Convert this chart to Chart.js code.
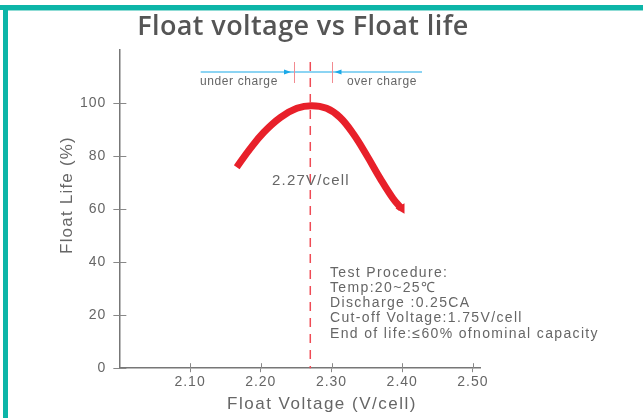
<!DOCTYPE html>
<html>
<head>
<meta charset="utf-8">
<script src="https://cdn.jsdelivr.net/npm/chart.js@4/dist/chart.umd.min.js"></script>
<style>
    html, body { margin: 0; padding: 0; background: #fff; }
    #cadre { position: relative; width: 643px; height: 418px; overflow: hidden; }
    #graphique { display: block; }
</style>
</head>
<body>
<div id="cadre"><canvas id="graphique" width="643" height="418"></canvas></div>
<script>
// données
const tensions = [2.166, 2.185, 2.204, 2.228, 2.251, 2.272, 2.293, 2.312, 2.331, 2.350, 2.369, 2.387, 2.399];
const vieFlottante = [75.8, 82.8, 88.9, 94.6, 98.0, 99.0, 98.0, 94.6, 88.3, 80.2, 71.5, 64.0, 60.2];
const ticksX = [2.10, 2.20, 2.30, 2.40, 2.50];
const ticksY = [0, 20, 40, 60, 80, 100];
const tensionOptimale = 2.27;
const procedure = [
    'Test Procedure:',
    'Temp:20~25\u2103',
    'Discharge :0.25CA',
    'Cut-off Voltage:1.75V/cell',
    'End of life:\u226460% ofnominal capacity',
];

const gris = '#666666';

function texte(ctx, t, x, y, police, espacement) {
    ctx.font = police;
    ctx.letterSpacing = espacement + 'px';
    ctx.fillText(t, x, y);
}

const decor = {
    id: 'decor',
    beforeDraw(chart) {
        const ctx = chart.ctx;
        ctx.save();
        ctx.fillStyle = '#ffffff';
        ctx.fillRect(0, 0, chart.width, chart.height);
        // cadre turquoise
        ctx.fillStyle = '#0db5a8';
        ctx.fillRect(0, 5, chart.width, 5);
        ctx.fillRect(3, 5, 5, chart.height);
        ctx.fillStyle = '#8fdcd5';
        ctx.fillRect(8, 10, chart.width, 1);
        ctx.restore();
        // espacement des lettres pour les graduations
        ctx.letterSpacing = '1px';
    },
    afterDraw(chart) {
        const ctx = chart.ctx;
        const x = chart.scales.x;
        const y = chart.scales.y;
        ctx.save();

        // titre
        ctx.fillStyle = '#555555';
        ctx.textAlign = 'center';
        ctx.textBaseline = 'middle';
        texte(ctx, 'Float voltage vs Float life', 303, 27, '600 27px "Open Sans"', 0.4);

        // titres des axes
        ctx.fillStyle = gris;
        texte(ctx, 'Float Voltage (V/cell)', 322, 404, '17px "Liberation Sans"', 1.5);
        ctx.save();
        ctx.translate(67, 195);
        ctx.rotate(-Math.PI / 2);
        texte(ctx, 'Float Life (%)', 0, 0, '17px "Liberation Sans"', 1.2);
        ctx.restore();

        // petits traits intérieurs des graduations
        ctx.strokeStyle = '#888888';
        ctx.lineWidth = 1;
        for (const v of ticksY) {
            const py = Math.round(y.getPixelForValue(v)) + 0.5;
            ctx.beginPath();
            ctx.moveTo(x.left, py);
            ctx.lineTo(x.left + 7, py);
            ctx.stroke();
        }
        for (const v of ticksX) {
            const px = Math.round(x.getPixelForValue(v)) + 0.5;
            ctx.beginPath();
            ctx.moveTo(px, y.bottom);
            ctx.lineTo(px, y.bottom - 5);
            ctx.stroke();
        }

        // ligne pointillée rouge à 2.27
        const xo = x.getPixelForValue(tensionOptimale);
        ctx.strokeStyle = '#ef4b55';
        ctx.lineWidth = 1.5;
        ctx.setLineDash([9, 7]);
        ctx.beginPath();
        ctx.moveTo(xo, 62);
        ctx.lineTo(xo, y.bottom);
        ctx.stroke();
        ctx.setLineDash([]);

        // sous-charge / surcharge
        const xa = x.getPixelForValue(2.115);
        const xb = x.getPixelForValue(2.428);
        const xg = x.getPixelForValue(2.247);
        const xd = x.getPixelForValue(2.300);
        ctx.strokeStyle = '#1aa9e8';
        ctx.fillStyle = '#1aa9e8';
        ctx.lineWidth = 1.2;
        ctx.beginPath();
        ctx.moveTo(xa, 72);
        ctx.lineTo(xb, 72);
        ctx.stroke();
        ctx.beginPath();
        ctx.moveTo(xg - 3, 72);
        ctx.lineTo(xg - 10, 69.5);
        ctx.lineTo(xg - 10, 74.5);
        ctx.fill();
        ctx.beginPath();
        ctx.moveTo(xd + 3, 72);
        ctx.lineTo(xd + 10, 69.5);
        ctx.lineTo(xd + 10, 74.5);
        ctx.fill();
        ctx.strokeStyle = '#f28a90';
        ctx.lineWidth = 1;
        for (const px of [xg, xd]) {
            ctx.beginPath();
            ctx.moveTo(Math.round(px) + 0.5, 62);
            ctx.lineTo(Math.round(px) + 0.5, 83);
            ctx.stroke();
        }
        ctx.fillStyle = gris;
        ctx.textAlign = 'left';
        texte(ctx, 'under charge', 200, 82, '12px "Liberation Sans"', 0.6);
        texte(ctx, 'over charge', 347, 82, '12px "Liberation Sans"', 0.6);

        // étiquette 2.27V/cell
        texte(ctx, '2.27V/cell', 272, 181, '15px "Liberation Sans"', 1.2);

        // procédure d'essai
        procedure.forEach((ligne, i) => {
            texte(ctx, ligne, 330, 273 + i * 15.2, '14px "Liberation Sans"', 1.35);
        });
        ctx.restore();
    },
};

const rayons = vieFlottante.map((v, i) => (i === vieFlottante.length - 1 ? 6 : 0));

new Chart(document.querySelector('#graphique'), {
    type: 'line',
    data: {
        datasets: [
            {
                data: tensions.map((t, i) => ({ x: t, y: vieFlottante[i] })),
                borderColor: '#e8202a',
                backgroundColor: '#e8202a',
                borderWidth: 7,
                borderCapStyle: 'butt',
                tension: 0.4,
                pointRadius: rayons,
                pointStyle: 'triangle',
                rotation: 150,
                pointBorderWidth: 0,
            },
        ],
    },
    options: {
        responsive: false,
        animation: false,
        layout: { padding: { left: 76, right: 163, top: 50, bottom: 25 } },
        plugins: { legend: { display: false }, tooltip: { enabled: false } },
        scales: {
            x: {
                type: 'linear',
                min: 2.0,
                max: 2.51,
                afterBuildTicks: (axe) => {
                    axe.ticks = ticksX.map((v) => ({ value: v }));
                },
                ticks: {
                    color: gris,
                    font: { family: 'Liberation Sans', size: 14 },
                    padding: 2,
                    callback: (v) => v.toFixed(2),
                },
                grid: { drawOnChartArea: false, tickLength: 4, color: '#888888' },
                border: { color: '#777777', width: 1.5 },
            },
            y: {
                min: 0,
                max: 120,
                afterBuildTicks: (axe) => {
                    axe.ticks = ticksY.map((v) => ({ value: v }));
                },
                ticks: {
                    color: gris,
                    font: { family: 'Liberation Sans', size: 14 },
                    padding: 7,
                },
                grid: { drawOnChartArea: false, tickLength: 6, color: '#888888' },
                border: { color: '#777777', width: 1.5 },
            },
        },
    },
    plugins: [decor],
});
</script>
</body>
</html>
